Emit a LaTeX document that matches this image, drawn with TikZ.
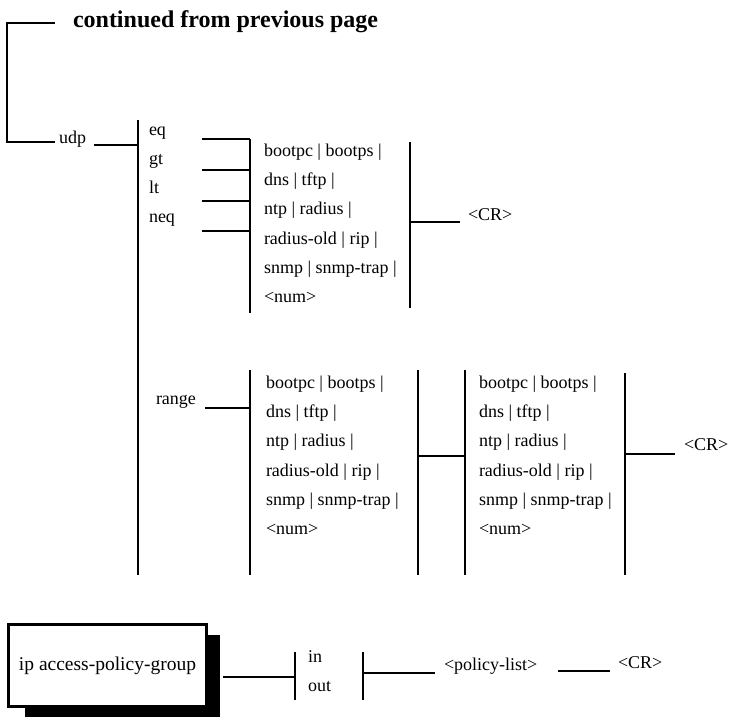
\documentclass[tikz,border=0pt]{standalone}
\usepackage{fontspec}
\setmainfont{Liberation Serif}
\usetikzlibrary{positioning}

\newcommand{\portnames}{bootpc | bootps |\\ dns | tftp |\\ ntp | radius |\\
  radius-old | rip |\\ snmp | snmp-trap |\\ <num>}

\begin{document}
\begin{tikzpicture}[
    x = 1pt,
    y = -1pt,
    line width = 2pt,
    ]

    \tikzstyle{every node}=[
    inner sep = 0pt,
    font = \fontsize{18}{29.2}\selectfont,
    ]
    \tikzstyle{kw}=[anchor = base west]
    \tikzstyle{ports}=[anchor = north west, align = left]
    \tikzstyle{cmdbox}=[
    draw = black,
    line width = 3pt,
    fill = white,
    minimum width = 198pt,
    minimum height = 82pt,
    font = \fontsize{19.5}{22}\selectfont,
    ]

    \useasboundingbox (0,0) rectangle (729,718);

    % continued part
    \node[anchor=west, font=\bfseries\fontsize{24}{28}\selectfont] (cont) at (72,22) {continued from previous page};
    \coordinate (c1) at (7,23);
    \coordinate (c2) at (7,142);
    \coordinate (c3) at (55,142);
    \draw ([xshift=-17pt]cont.west |- c1) -- (c1) -- (c2) -- (c3);

    \node[kw] (udp) at (58,143) {udp};
    \coordinate (b1t) at (138,120);
    \coordinate (b1b) at (138,575);
    \draw (b1t) -- (b1b);
    \draw ([xshift=7pt]udp.base east) ++(0,2) coordinate (u1) -- (u1 -| b1t);

    \node[kw] (eq) at (148,135) {eq};
    \node[kw] (gt) at (148,164) {gt};
    \node[kw] (lt) at (148,193) {lt};
    \node[kw] (neq) at (148,222) {neq};

    \coordinate (b2t) at (250,139);
    \coordinate (b2b) at (250,313);
    \coordinate (o1) at (202,139);
    \coordinate (o2) at (202,170);
    \coordinate (o3) at (202,201);
    \coordinate (o4) at (202,231);
    \draw (b2t) -- (b2b);
    \draw (o1) -- (b2t);
    \draw (o2) -- (o2 -| b2t);
    \draw (o3) -- (o3 -| b2t);
    \draw (o4) -- (o4 -| b2t);

    \node[ports] (p1) at (263,143) {\portnames};
    \coordinate (b3t) at (410,142);
    \coordinate (b3b) at (410,308);
    \draw (b3t) -- (b3b);
    \node[kw] (cr1) at (467,220) {<CR>};
    \draw (410,222) coordinate (e1) -- ([xshift=-7pt]cr1.base west |- e1);

    % range
    \node[kw] (range) at (155,404) {range};
    \coordinate (b4t) at (250,370);
    \coordinate (b4b) at (250,575);
    \draw (b4t) -- (b4b);
    \draw ([xshift=8pt]range.base east) ++(0,4) coordinate (r1) -- (r1 -| b4t);

    \node[ports] (p2) at (265,375) {\portnames};
    \coordinate (b5t) at (418,370);
    \coordinate (b5b) at (418,575);
    \coordinate (b6t) at (465,370);
    \coordinate (b6b) at (465,575);
    \draw (b5t) -- (b5b);
    \draw (b6t) -- (b6b);
    \draw (418,456) coordinate (r2) -- (r2 -| b6t);

    \node[ports] (p3) at (478,375) {\portnames};
    \coordinate (b7t) at (625,373);
    \coordinate (b7b) at (625,575);
    \draw (b7t) -- (b7b);
    \node[kw] (cr2) at (683,450) {<CR>};
    \draw (625,454) coordinate (r3) -- ([xshift=-8pt]cr2.base west |- r3);

    % ip access-policy-group
    \fill (25,635) rectangle (220,717);
    \node[cmdbox] (cmd) at (107.5,665.5) {ip access-policy-group};

    \node[kw] (in) at (307,662) {in};
    \node[kw] (out) at (307,691) {out};
    \coordinate (b8t) at (295,652);
    \coordinate (b8b) at (295,700);
    \coordinate (b9t) at (363,652);
    \coordinate (b9b) at (363,700);
    \draw (b8t) -- (b8b);
    \draw (b9t) -- (b9b);
    \draw ([xshift=15pt]cmd.east |- 0,677) coordinate (a1) -- (a1 -| b8t);

    \node[kw] (plist) at (443,670) {<policy-list>};
    \draw (363,673) coordinate (a2) -- ([xshift=-8pt]plist.base west |- a2);

    \node[kw] (cr3) at (617,668) {<CR>};
    \draw ([xshift=20pt]plist.base east) ++(0,1) coordinate (a3) -- ([xshift=-7pt]cr3.base west |- a3);
\end{tikzpicture}
\end{document}
